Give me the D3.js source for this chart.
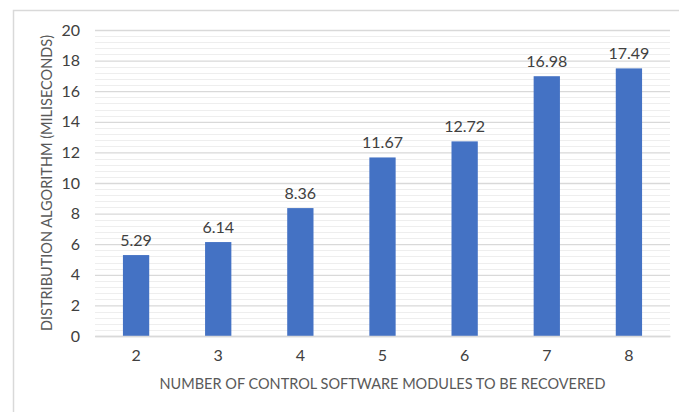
<!DOCTYPE html>
<html>
<head>
<meta charset="utf-8">
<script src="https://cdn.jsdelivr.net/npm/d3@7"></script>
<style>
  html, body { margin: 0; padding: 0; background: #ffffff; }
  svg { display: block; }
</style>
</head>
<body>
<svg id="chart" width="679" height="412"></svg>
<script>
// Number of control software modules to be recovered
const categories = ["2", "3", "4", "5", "6", "7", "8"];
// Distribution algorithm time (milliseconds)
const values = [5.29, 6.14, 8.36, 11.67, 12.72, 16.98, 17.49];
const valueLabels = ["5.29", "6.14", "8.36", "11.67", "12.72", "16.98", "17.49"];
const yTicks = [0, 2, 4, 6, 8, 10, 12, 14, 16, 18, 20];
const xTitle = "NUMBER OF CONTROL SOFTWARE MODULES TO BE RECOVERED";
const yTitle = "DISTRIBUTION ALGORITHM (MILISECONDS)";

const svg = d3.select("#chart");
const font = "Lato, 'Open Sans', sans-serif";
const margin = { left: 95, right: 9, top: 30, bottom: 76 };
const W = 679, H = 412;

// outer chart frame
svg.append("rect")
  .attr("x", 13.5).attr("y", 10.5)
  .attr("width", 700).attr("height", 420)
  .attr("fill", "#fff").attr("stroke", "#d9d9d9").attr("stroke-width", 1.5);

const x = d3.scaleBand()
  .domain(categories)
  .range([margin.left, W - margin.right])
  .paddingInner(0.68).paddingOuter(0.34);

const y = d3.scaleLinear()
  .domain([0, 20])
  .range([H - margin.bottom, margin.top]);

// minor gridlines every 0.4
const minor = d3.range(0, 20.001, 0.4).filter(v => Math.abs(v / 2 - Math.round(v / 2)) > 1e-6);
svg.append("g").selectAll("line").data(minor).join("line")
  .attr("x1", margin.left).attr("x2", W - margin.right)
  .attr("y1", d => Math.round(y(d)) + 0.5).attr("y2", d => Math.round(y(d)) + 0.5)
  .attr("stroke", "#eeeeee").attr("stroke-width", 1);

// major gridlines via y axis
const yAxis = d3.axisLeft(y).tickValues(yTicks).tickSize(-(W - margin.left - margin.right)).tickPadding(15);
const gy = svg.append("g").attr("transform", `translate(${margin.left},0)`).call(yAxis);
gy.select(".domain").remove();
gy.selectAll(".tick line").attr("stroke", "#d9d9d9").attr("stroke-width", 1.3);
gy.selectAll(".tick text")
  .attr("fill", "#404040").attr("font-family", font).attr("font-size", 16);

// bars
svg.append("g").selectAll("rect").data(values).join("rect")
  .attr("x", (d, i) => x(categories[i]))
  .attr("width", x.bandwidth())
  .attr("y", d => y(d))
  .attr("height", d => y(0) - y(d))
  .attr("fill", "#4472c4");

// value labels
svg.append("g").selectAll("text").data(values).join("text")
  .attr("x", (d, i) => x(categories[i]) + x.bandwidth() / 2)
  .attr("y", d => y(d) - 9)
  .attr("text-anchor", "middle")
  .attr("fill", "#404040").attr("font-family", font).attr("font-size", 16)
  .text((d, i) => valueLabels[i]);

// x axis
const xAxis = d3.axisBottom(x).tickSize(0).tickPadding(14);
const gx = svg.append("g").attr("transform", `translate(0,${y(0)})`).call(xAxis);
gx.select(".domain").attr("stroke", "#d9d9d9").attr("stroke-width", 1.3);
gx.selectAll(".tick text")
  .attr("fill", "#404040").attr("font-family", font).attr("font-size", 16);

// axis titles
svg.append("text")
  .attr("x", (margin.left + W - margin.right) / 2)
  .attr("y", 389)
  .attr("text-anchor", "middle")
  .attr("fill", "#595959").attr("font-family", font).attr("font-size", 14.5)
  .text(xTitle);

svg.append("text")
  .attr("transform", `translate(52,${(y(0) + y(20)) / 2}) rotate(-90)`)
  .attr("text-anchor", "middle")
  .attr("fill", "#595959").attr("font-family", font).attr("font-size", 14.5)
  .text(yTitle);
</script>
</body>
</html>
